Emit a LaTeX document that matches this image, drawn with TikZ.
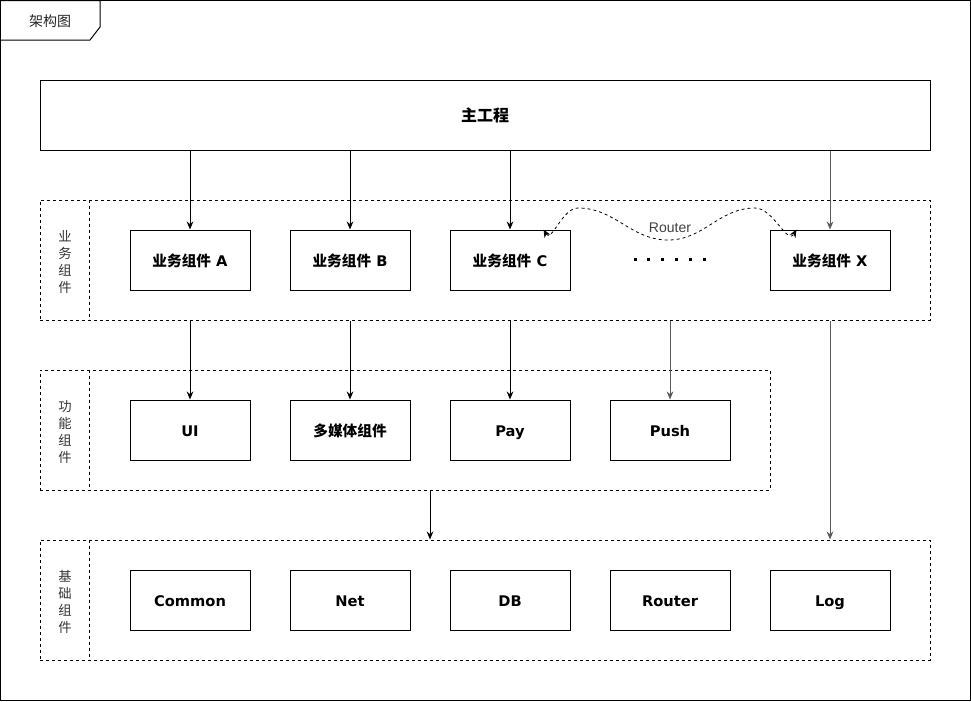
\documentclass[tikz,border=0pt]{standalone}
\usepackage{fontspec}
\setmainfont{Liberation Sans}
\newfontfamily\boxfont{DejaVu Sans}
\newfontfamily\cjk{Noto Sans CJK SC}
\usetikzlibrary{arrows.meta,positioning}
\tikzset{every picture/.style={line width=0.75pt}}

\begin{document}
\begin{tikzpicture}[x=0.75pt,y=0.75pt,yscale=-1,xscale=1,
  >={Stealth[length=6pt,width=5pt]},
  comp/.style={draw,minimum width=90pt,minimum height=45pt,inner sep=0pt,text height=11.5pt,text depth=2pt,font=\fontsize{11}{13}\selectfont\boxfont\bfseries},
  grp/.style={draw,dash pattern=on 2.25pt off 2.25pt,minimum height=90pt,inner sep=0pt},
  sep/.style={dash pattern=on 2.25pt off 2.25pt},
  side/.style={align=center,font=\fontsize{10}{12.75}\selectfont\cjk,text=black!80},
  arr/.style={->},
  garr/.style={->,draw=black!65,>={Stealth[length=6pt,width=5pt,fill=black!65]}}]
\useasboundingbox (0,0) rectangle (971,701);

%frame and tab
\draw (0.5,0.5) rectangle (970.5,700.5);
\draw (0.5,0.5) -- (100,0.5) -- (100,27) -- (90,40) -- (0.5,40);
\node[font=\fontsize{10.5}{12}\selectfont\cjk,text=black!85] (title) at (50,21) {架构图};

%main project
\node[draw,minimum width=667.5pt,minimum height=52.5pt,text height=12pt,text depth=2pt,font=\fontsize{12}{14}\selectfont\cjk\bfseries] (main) at (485,115) {主工程};

%groups
\node[grp,minimum width=667.5pt] (g1) at (485,260) {};
\node[grp,minimum width=547.5pt] (g2) at (405,430) {};
\node[grp,minimum width=667.5pt] (g3) at (485,600) {};
\foreach \g in {g1,g2,g3}
  \draw[sep] ([xshift=37.5pt]\g.north west) -- ([xshift=37.5pt]\g.south west);
\node[side] (s1) at (65,262) {业\\务\\组\\件};
\node[side] (s2) at (65,432) {功\\能\\组\\件};
\node[side] (s3) at (65,602) {基\\础\\组\\件};

%business components
\node[comp] (bA) at (190,260) {{\cjk 业务组件} A};
\node[comp] (bB) at (350,260) {{\cjk 业务组件} B};
\node[comp] (bC) at (510,260) {{\cjk 业务组件} C};
\node[comp] (bX) at (830,260) {{\cjk 业务组件} X};
\foreach \i in {0,...,5}
  \fill (633.5+13.8*\i,257.5) rectangle ++(3,3);

%function components
\node[comp] (fUI) at (190,430) {UI};
\node[comp] (fMM) at (350,430) {{\cjk 多媒体组件}};
\node[comp] (fPay) at (510,430) {Pay};
\node[comp] (fPush) at (670,430) {Push};

%base components
\node[comp] (cCom) at (190,600) {Common};
\node[comp] (cNet) at (350,600) {Net};
\node[comp] (cDB) at (510,600) {DB};
\node[comp] (cRt) at (670,600) {Router};
\node[comp] (cLog) at (830,600) {Log};

%arrows
\draw[arr] (bA |- main.south) -- (bA.north);
\draw[arr] (bB |- main.south) -- (bB.north);
\draw[arr] (bC |- main.south) -- (bC.north);
\draw[garr] (bX |- main.south) -- (bX.north);
\draw[arr] (fUI |- g1.south) -- (fUI.north);
\draw[arr] (fMM |- g1.south) -- (fMM.north);
\draw[arr] (fPay |- g1.south) -- (fPay.north);
\draw[garr] (fPush |- g1.south) -- (fPush.north);
\draw[arr] ([xshift=18.75pt]g2.south) -- ([xshift=18.75pt]g2.south |- g3.north);
\draw[garr] (cLog |- g1.south) -- (cLog |- g3.north);

%router link
\draw[<->,sep,line width=0.6pt] ([xshift=-20.25pt]bC.north east) to[out=60,in=180] (578,208)
  to[out=0,in=180] (668,240) to[out=0,in=180] (755,208) to[out=0,in=120] ([xshift=20.25pt]bX.north west);
\node[fill=white,inner sep=1pt,font=\fontsize{10.5}{12}\selectfont,text=black!75] (rlab) at (670,228) {Router};
\end{tikzpicture}
\end{document}
